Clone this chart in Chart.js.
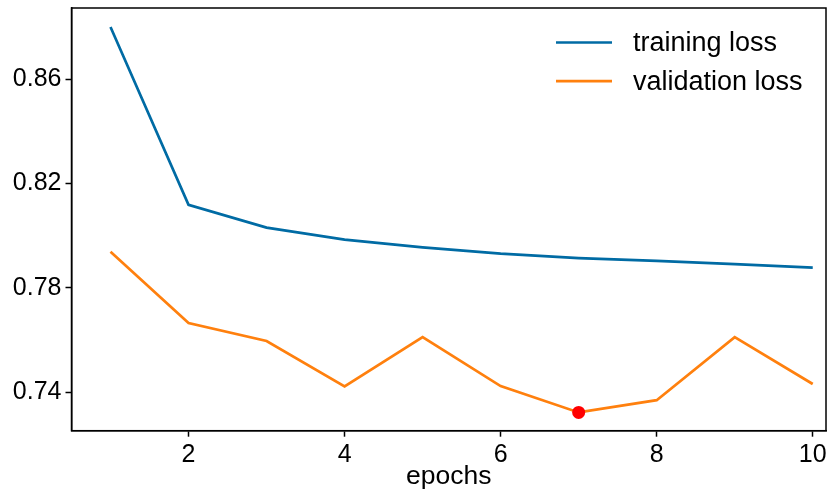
<!DOCTYPE html>
<html>
<head>
<meta charset="utf-8">
<script src="https://cdn.jsdelivr.net/npm/chart.js@4.4.1/dist/chart.umd.min.js"></script>
<style>
  html, body { margin: 0; padding: 0; background: #fff; overflow: hidden; }
  canvas { display: block; }
</style>
</head>
<body>
<canvas id="c" width="828" height="493"></canvas>
<script>
// values
const epochs = [1, 2, 3, 4, 5, 6, 7, 8, 9, 10];
const training_loss = [0.8800, 0.8118, 0.8031, 0.7985, 0.7955, 0.7931, 0.7914, 0.7903, 0.7891, 0.7877];
const validation_loss = [0.7938, 0.7665, 0.7596, 0.7422, 0.7611, 0.7423, 0.7322, 0.7369, 0.7611, 0.7431];
const x_ticks = [2, 4, 6, 8, 10];
const y_ticks = [0.74, 0.78, 0.82, 0.86];
const series_labels = ['training loss', 'validation loss'];

const FONT = '"Liberation Sans", Arial, Helvetica, sans-serif';
Chart.defaults.font.family = FONT;
Chart.defaults.font.size = 25;
Chart.defaults.color = '#000';

// best epoch = lowest validation loss
const best_idx = validation_loss.indexOf(Math.min(...validation_loss));

const to_points = (ys) => ys.map((y, i) => ({ x: epochs[i], y: y }));

// full box round the plot + legend without frame, top right
const frame_and_legend = {
    id: 'frame_and_legend',
    afterDraw(chart) {
        const ctx = chart.ctx;
        const a = chart.chartArea;
        ctx.save();
        ctx.strokeStyle = '#000';
        ctx.lineWidth = 1.5;
        ctx.strokeRect(a.left, a.top, a.right - a.left, a.bottom - a.top);

        ctx.font = '27px ' + FONT;
        ctx.textBaseline = 'middle';
        ctx.fillStyle = '#000';
        chart.data.datasets.filter(d => !d.hideInLegend).forEach((d, i) => {
            const y = a.top + 34.5 + i * 38.7;
            ctx.strokeStyle = d.borderColor;
            ctx.lineWidth = 2.7;
            ctx.beginPath();
            ctx.moveTo(556, y);
            ctx.lineTo(612, y);
            ctx.stroke();
            ctx.fillText(d.label, 633, y + 1);
        });
        ctx.restore();
    }
};

new Chart(document.getElementById('c'), {
    type: 'line',
    data: {
        datasets: [
            {
                label: series_labels[0],
                data: to_points(training_loss),
                borderColor: '#006BA4',
                borderWidth: 2.7,
                pointRadius: 0,
                tension: 0,
                order: 1
            },
            {
                label: series_labels[1],
                data: to_points(validation_loss),
                borderColor: '#FF800E',
                borderWidth: 2.7,
                pointRadius: 0,
                tension: 0,
                order: 0
            },
            {
                label: 'best',
                hideInLegend: true,
                data: [{ x: epochs[best_idx], y: validation_loss[best_idx] }],
                showLine: false,
                pointRadius: 6.5,
                pointBackgroundColor: '#FF0000',
                pointBorderWidth: 0,
                borderColor: '#FF0000',
                order: -1
            }
        ]
    },
    options: {
        responsive: false,
        animation: false,
        layout: { autoPadding: false, padding: { top: 8, right: 2, left: 0, bottom: 0 } },
        plugins: {
            legend: { display: false },
            tooltip: { enabled: false }
        },
        scales: {
            x: {
                type: 'linear',
                min: 0.5,
                max: 10.17,
                afterBuildTicks: (s) => { s.ticks = x_ticks.map(v => ({ value: v })); },
                afterFit: (s) => { s.height = 62.3; s.paddingLeft = 0; s.paddingRight = 0; },
                grid: { display: true, drawOnChartArea: false, tickLength: 6, tickColor: '#000', tickWidth: 1.5 },
                border: { display: true, color: '#000', width: 1.5 },
                ticks: { padding: 3, maxRotation: 0, font: { size: 25 } },
                title: { display: true, text: 'epochs', font: { size: 26.5 }, padding: { top: 0, bottom: 0 } }
            },
            y: {
                min: 0.7252,
                max: 0.8873,
                afterBuildTicks: (s) => { s.ticks = y_ticks.map(v => ({ value: v })); },
                afterFit: (s) => { s.width = 71.5; s.paddingTop = 0; s.paddingBottom = 0; },
                grid: { display: true, drawOnChartArea: false, tickLength: 6, tickColor: '#000', tickWidth: 1.5 },
                border: { display: true, color: '#000', width: 1.5 },
                ticks: {
                    padding: 4,
                    font: { size: 25 },
                    callback: (v) => v.toFixed(2)
                }
            }
        }
    },
    plugins: [frame_and_legend]
});
</script>
</body>
</html>
